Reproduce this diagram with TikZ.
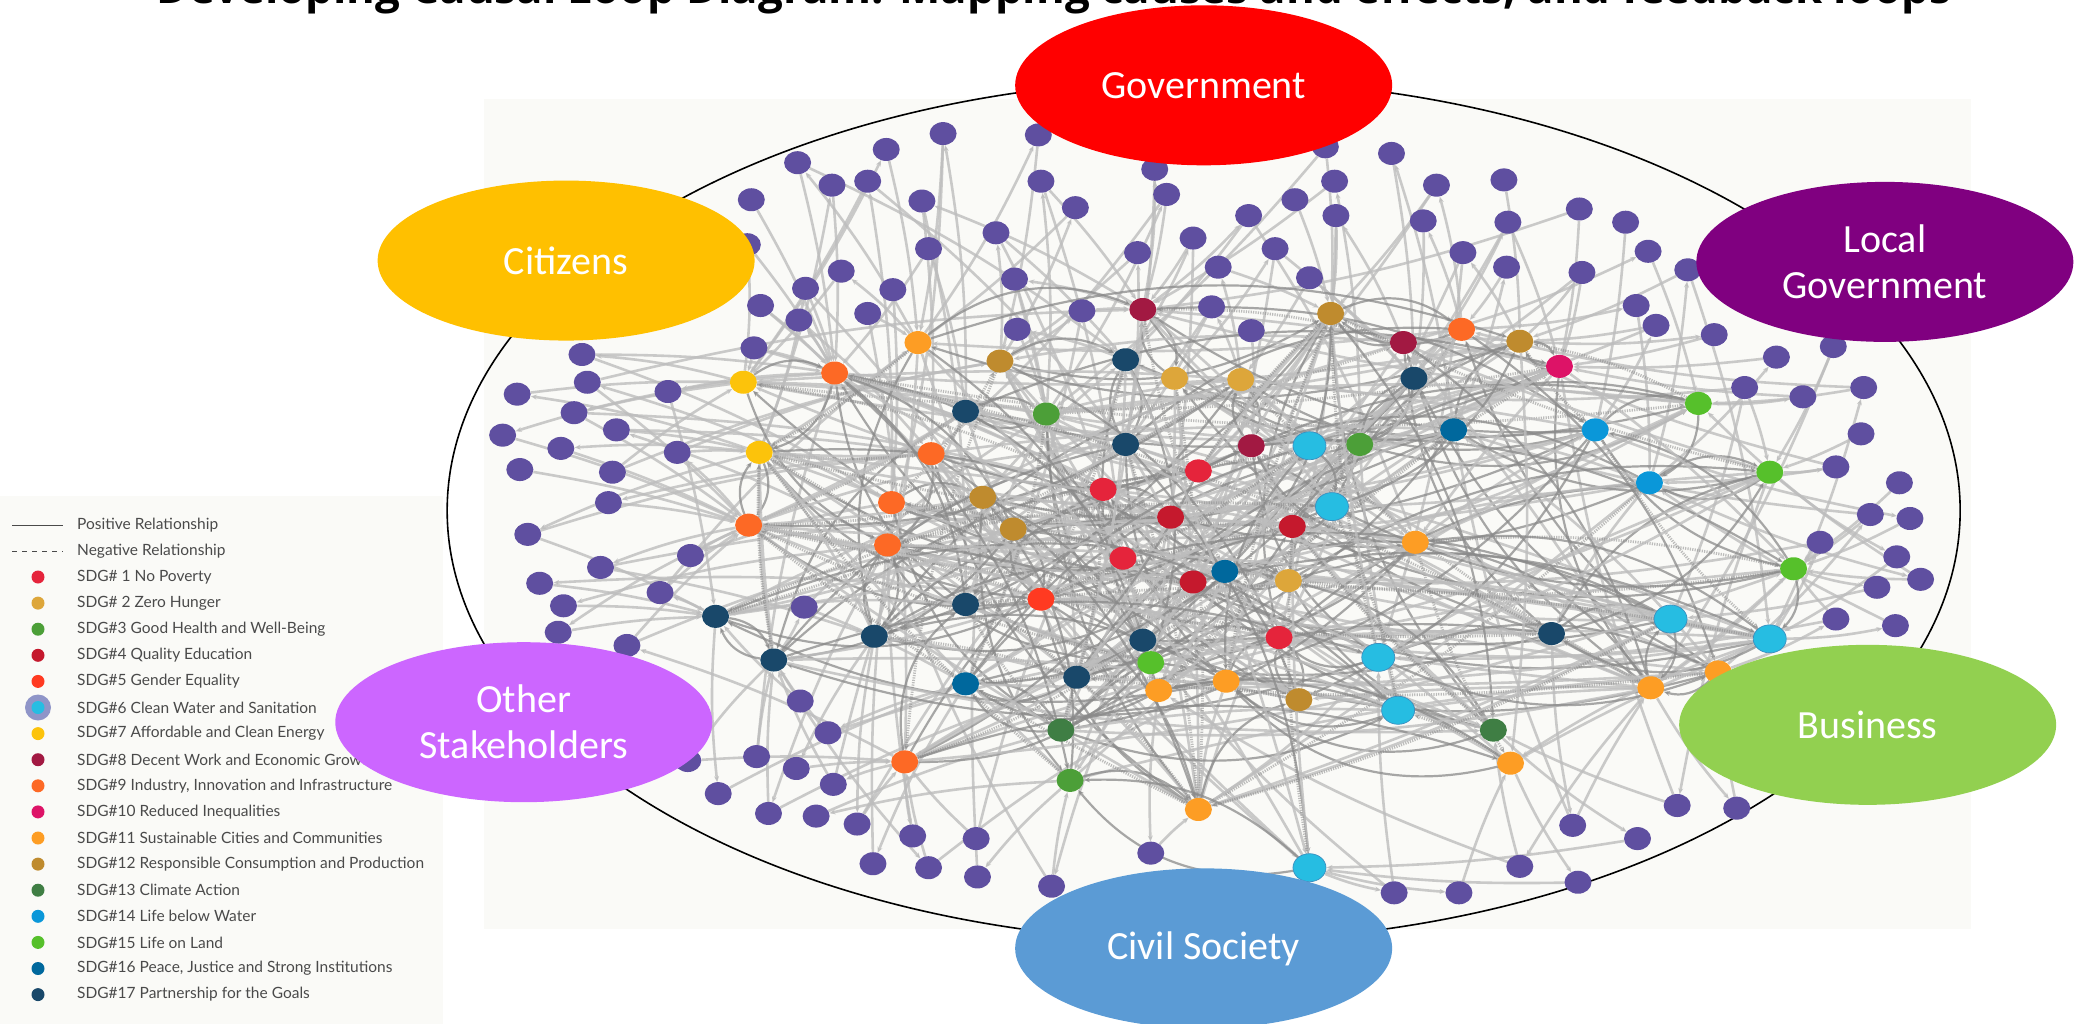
\documentclass[tikz,border=0pt]{standalone}
\usepackage{fontspec}
\usepackage{graphicx}
\setmainfont{Carlito}
\newfontfamily\legfont{Lato}
\newfontfamily\ttlfont{Open Sans}
\usetikzlibrary{shapes.geometric,arrows.meta}
\pgfdeclarelayer{bgl}
\pgfdeclarelayer{edl}
\pgfdeclarelayer{fgl}
\pgfsetlayers{bgl,edl,main,fgl}
\definecolor{k1}{HTML}{E5243B}
\definecolor{k2}{HTML}{DDA63A}
\definecolor{k3}{HTML}{4C9F38}
\definecolor{k4}{HTML}{C5192D}
\definecolor{k5}{HTML}{FF3A21}
\definecolor{k6}{HTML}{26BDE2}
\definecolor{k7}{HTML}{FCC30B}
\definecolor{k8}{HTML}{A21942}
\definecolor{k9}{HTML}{FD6925}
\definecolor{k10}{HTML}{DD1367}
\definecolor{k11}{HTML}{FD9D24}
\definecolor{k12}{HTML}{BF8B2E}
\definecolor{k13}{HTML}{3F7E44}
\definecolor{k14}{HTML}{0A97D9}
\definecolor{k15}{HTML}{56C02B}
\definecolor{k16}{HTML}{00689D}
\definecolor{k17}{HTML}{19486A}
\definecolor{k6b}{HTML}{3A8FC0}
\definecolor{halo}{HTML}{8F95C8}
\definecolor{pp}{HTML}{5F4FA0}
\definecolor{offw}{HTML}{FAFAF7}
\definecolor{lgt}{HTML}{BDBDBD}
\definecolor{drk}{HTML}{8A8A8A}
\definecolor{legtxt}{HTML}{4A4A4A}
\definecolor{govc}{HTML}{FF0000}
\definecolor{locc}{HTML}{800080}
\definecolor{citc}{HTML}{FFC000}
\definecolor{othc}{HTML}{CC66FF}
\definecolor{busc}{HTML}{92D050}
\definecolor{civc}{HTML}{5B9BD5}
\tikzset{
  pn/.style={ellipse,fill=pp,minimum width=27pt,minimum height=23pt,inner sep=0pt},
  cn/.style={ellipse,minimum width=27pt,minimum height=23pt,inner sep=0pt},
  cyn/.style={ellipse,fill=k6,draw=k6b,line width=0.7pt,minimum width=33pt,minimum height=28pt,inner sep=0pt},
  arrtip/.style={-{Stealth[length=6pt,width=5pt]}},
  pedge/.style={draw=lgt,line width=2.6pt,opacity=0.8,arrtip},
  cedge/.style={draw=drk,line width=2.2pt,opacity=0.75,arrtip},
  nedge/.style={draw=drk,line width=2.8pt,dash pattern=on 1.2pt off 1.2pt,opacity=0.55,arrtip},
  stake/.style={ellipse,minimum width=377pt,minimum height=160pt,inner sep=0pt,text=white,align=center,font=\fontsize{40}{46}\selectfont},
  legline/.style={draw=legtxt,line width=1pt},
  legdot/.style={circle,minimum size=13pt,inner sep=0pt},
  legtext/.style={anchor=west,inner sep=0pt,text=legtxt,font=\legfont\fontsize{15.5}{18}\selectfont},
}
\begin{document}
\begin{tikzpicture}[x=1pt,y=-1pt]
\useasboundingbox (0,0) rectangle (2074,1024);
\begin{pgfonlayer}{bgl}
  \fill[white] (0,0) rectangle (2074,1024);
  \fill[offw] (0,496) rectangle (443,1024);
\end{pgfonlayer}
% title (only its lower part lies inside the page, as in the reference)
\node[anchor=base,inner sep=0pt] (title) at (1054,3.5)
  {\resizebox{1794pt}{!}{\ttlfont\bfseries Developing Causal Loop Diagram: Mapping causes and effects, and feedback loops}};
% legend
\coordinate (lpa) at (12,525); \coordinate (lpb) at (63,525);
\coordinate (lna) at (12,551); \coordinate (lnb) at (63,551);
\draw[legline] (lpa) -- (lpb);
\draw[legline,dash pattern=on 5pt off 5pt] (lna) -- (lnb);
\node[legtext] (lt-pos) at (77,525) {Positive Relationship};
\node[legtext] (lt-neg) at (77,551) {Negative Relationship};
\node[circle,fill=halo,minimum size=26pt,inner sep=0pt] (lhalo) at (38,707.5) {};
\foreach \t/\c [count=\k] in {
  {SDG\# 1 No Poverty}/k1,
  {SDG\# 2 Zero Hunger}/k2,
  {SDG\#3 Good Health and Well-Being}/k3,
  {SDG\#4 Quality Education}/k4,
  {SDG\#5 Gender Equality}/k5,
  {SDG\#6 Clean Water and Sanitation}/k6,
  {SDG\#7 Affordable and Clean Energy}/k7,
  {SDG\#8 Decent Work and Economic Growth}/k8,
  {SDG\#9 Industry, Innovation and Infrastructure}/k9,
  {SDG\#10 Reduced Inequalities}/k10,
  {SDG\#11 Sustainable Cities and Communities}/k11,
  {SDG\#12 Responsible Consumption and Production}/k12,
  {SDG\#13 Climate Action}/k13,
  {SDG\#14 Life below Water}/k14,
  {SDG\#15 Life on Land}/k15,
  {SDG\#16 Peace, Justice and Strong Institutions}/k16,
  {SDG\#17 Partnership for the Goals}/k17}{
  \pgfmathsetmacro\ly{577+26.1*(\k-1)}
  \node[legdot,fill=\c] (ld\k) at (38,\ly) {};
  \node[legtext] (lt\k) at (77,\ly) {\t};
}
\begin{scope}[scale=1.3227]
  \begin{pgfonlayer}{bgl}
    \fill[offw] (366,75) rectangle (1490,702);
  \end{pgfonlayer}
  \node[ellipse,draw=black,line width=1.6pt,minimum width=1513pt,minimum height=862pt,inner sep=0pt] (frame) at (910,386) {};
  % SDG nodes
  \foreach \x/\y/\g [count=\i] in {
    562/289/k7, 574/342/k7, 631/282/k9, 694/259/k11, 756/273/k12, 730/311/k17,
    791/313/k3, 851/272/k17, 864/234/k8, 888/286/k2, 938/287/k2, 1006/237/k12,
    1061/259/k8, 1105/249/k9, 1149/258/k12, 1069/286/k17, 1179/277/k10, 704/343/k9,
    674/380/k9, 743/376/k12, 671/412/k9, 566/397/k9, 766/400/k12, 851/336/k17,
    834/370/k1, 906/356/k1, 885/391/k4, 946/337/k8, 1028/336/k3, 1099/325/k16,
    1206/325/k14, 977/398/k4, 849/422/k1, 902/440/k4, 926/432/k16, 974/439/k2,
    1070/410/k11, 1247/365/k14, 1284/305/k15, 1338/357/k15, 1356/430/k15, 787/453/k5,
    730/457/k17, 661/481/k17, 541/466/k17, 585/499/k17, 864/484/k17, 870/501/k15,
    967/482/k1, 1173/479/k17, 730/517/k16, 814/512/k17, 876/522/k11, 927/515/k11,
    982/529/k12, 1129/552/k13, 1248/520/k11, 1299/508/k11, 802/552/k13, 809/590/k3,
    684/576/k9, 906/612/k11, 1142/577/k11}{
    \node[cn,fill=\g] (c\i) at (\x,\y) {};
    \expandafter\xdef\csname cx\i\endcsname{\x}
    \expandafter\xdef\csname cy\i\endcsname{\y}
    \xdef\nc{\i}
  }
  \foreach \x/\y [count=\i from 64] in {990/337, 1007/383, 1263/468, 1338/483, 1042/497, 1057/537, 990/656}{
    \node[cyn] (c\i) at (\x,\y) {};
    \expandafter\xdef\csname cx\i\endcsname{\x}
    \expandafter\xdef\csname cy\i\endcsname{\y}
    \xdef\nc{\i}
  }
  % actor nodes, each linked to SDG nodes
  \foreach \x/\y [count=\i] in {
    713/101, 670/113, 603/123, 629/140, 656/137, 568/151, 697/152, 785/102, 787/137,
    813/157, 753/176, 702/188, 767/211, 636/205, 609/218, 675/219, 575/231, 604/242,
    656/237, 565/185, 818/235, 769/249, 570/263,
    873/128, 882/147, 860/191, 902/180, 921/202, 944/163, 979/151, 964/188, 990/210,
    916/232, 946/250, 1002/111, 1009/137, 1010/163, 1052/116, 1086/140, 1076/167,
    1106/191, 1137/136, 1140/168, 1139/202, 1194/158, 1229/168, 1196/206, 1246/190,
    1276/204, 1237/231, 1252/246,
    1296/253, 1386/262, 1343/270, 1319/293, 1363/300, 1409/293, 1407/328, 1388/353,
    1436/365, 1414/389, 1444/392, 1376/410, 1434/421, 1452/438, 1419/444, 1388/468, 1433/473,
    440/268, 391/298, 444/289, 505/296, 434/312, 380/329, 466/325, 424/339, 512/342,
    393/355, 463/357, 460/380, 399/404, 522/420, 454/429, 408/441, 499/448, 426/458,
    608/459, 422/478, 474/488,
    605/530, 626/554, 520/575, 572/572, 602/581, 630/593, 543/600, 581/615, 617/617,
    648/623, 690/632, 738/634, 660/653, 702/656, 739/663, 795/670, 870/645,
    1054/675, 1103/675, 1149/655, 1193/667, 1189/624, 1238/634, 1268/609, 1313/611}{
    \node[pn] (p\i) at (\x,\y) {};
    \xdef\ba{1}\xdef\bad{99999}\xdef\bb{1}\xdef\bbd{99999}\xdef\bc{1}\xdef\bcd{99999}
    \foreach \j in {1,...,\nc}{
      \pgfmathtruncatemacro\dd{abs(\x-\csname cx\j\endcsname)+abs(\y-\csname cy\j\endcsname)}
      \pgfmathtruncatemacro\sa{\dd+mod(\i*31+\j*17,9)*40}
      \pgfmathtruncatemacro\sb{\dd+mod(\i*13+\j*29,11)*70}
      \pgfmathtruncatemacro\sc{abs(\dd-380)+mod(\i*7+\j*43,13)*40}
      \ifnum\sa<\bad\relax\xdef\bad{\sa}\xdef\ba{\j}\fi
      \ifnum\sb<\bbd\relax\xdef\bbd{\sb}\xdef\bb{\j}\fi
      \ifnum\sc<\bcd\relax\xdef\bcd{\sc}\xdef\bc{\j}\fi
    }
    \begin{pgfonlayer}{edl}
      \draw[pedge] (p\i) to[bend left=4] (c\ba);
      \ifnum\bb=\ba\relax\else\draw[pedge] (c\bb) to[bend right=5] (p\i);\fi
      \ifodd\i\relax\ifnum\bc=\ba\relax\else\draw[pedge] (p\i) to[bend left=6] (c\bc);\fi\fi
    \end{pgfonlayer}
  }
  % links between SDG nodes
  \foreach \i in {1,...,\nc}{
    \xdef\ba{0}\xdef\bad{99999}\xdef\bb{0}\xdef\bbd{99999}\xdef\bc{0}\xdef\bcd{99999}
    \foreach \j in {1,...,\nc}{
      \ifnum\j=\i\relax\else
        \pgfmathtruncatemacro\dd{abs(\csname cx\i\endcsname-\csname cx\j\endcsname)+abs(\csname cy\i\endcsname-\csname cy\j\endcsname)}
        \pgfmathtruncatemacro\sa{\dd+mod(\i*37+\j*11,13)*30}
        \pgfmathtruncatemacro\sb{abs(\dd-280)+mod(\i*7+\j*23,10)*35}
        \pgfmathtruncatemacro\sc{abs(\dd-450)+mod(\i*17+\j*5,11)*30}
        \ifnum\sa<\bad\relax\xdef\bad{\sa}\xdef\ba{\j}\fi
        \ifnum\sb<\bbd\relax\xdef\bbd{\sb}\xdef\bb{\j}\fi
        \ifnum\sc<\bcd\relax\xdef\bcd{\sc}\xdef\bc{\j}\fi
      \fi
    }
    \pgfmathtruncatemacro\tc{mod(\i*19+7,\nc)+1}
    \pgfmathtruncatemacro\te{mod(\i*27+3,\nc)+1}
    \pgfmathtruncatemacro\tf{mod(\i*45+31,\nc)+1}
    \pgfmathtruncatemacro\td{mod(\i*11+5,\nc)+1}
    \begin{pgfonlayer}{edl}
      \draw[cedge] (c\i) to[bend left=30] (c\ba);
      \draw[cedge] (c\i) to[bend right=22] (c\bb);
      \draw[cedge] (c\bc) to[bend left=18] (c\i);
      \ifnum\tc=\i\relax\else\draw[pedge] (c\tc) to[bend left=5] (c\i);\fi
      \ifnum\te=\i\relax\else\draw[pedge] (c\i) to[bend right=7] (c\te);\fi
      \ifnum\tf=\i\relax\else\draw[pedge] (c\tf) to[bend right=3] (c\i);\fi
      \ifodd\i\relax\ifnum\td=\i\relax\else\draw[nedge] (c\i) to[bend right=8] (c\td);\fi
      \else\ifnum\tf=\i\relax\else\draw[nedge] (c\i) to[bend left=6] (c\tf);\fi\fi
    \end{pgfonlayer}
  }
  % stakeholder groups
  \begin{pgfonlayer}{fgl}
    \node[stake,fill=govc] (gov) at (910,64.5) {Government};
    \node[stake,fill=locc] (loc) at (1425,198) {Local\\Government};
    \node[stake,fill=citc] (cit) at (428,197) {Citizens};
    \node[stake,fill=othc] (oth) at (396,546) {Other\\Stakeholders};
    \node[stake,fill=busc] (bus) at (1412,548) {Business};
    \node[stake,fill=civc] (civ) at (910,717) {Civil Society};
  \end{pgfonlayer}
\end{scope}
\end{tikzpicture}
\end{document}
